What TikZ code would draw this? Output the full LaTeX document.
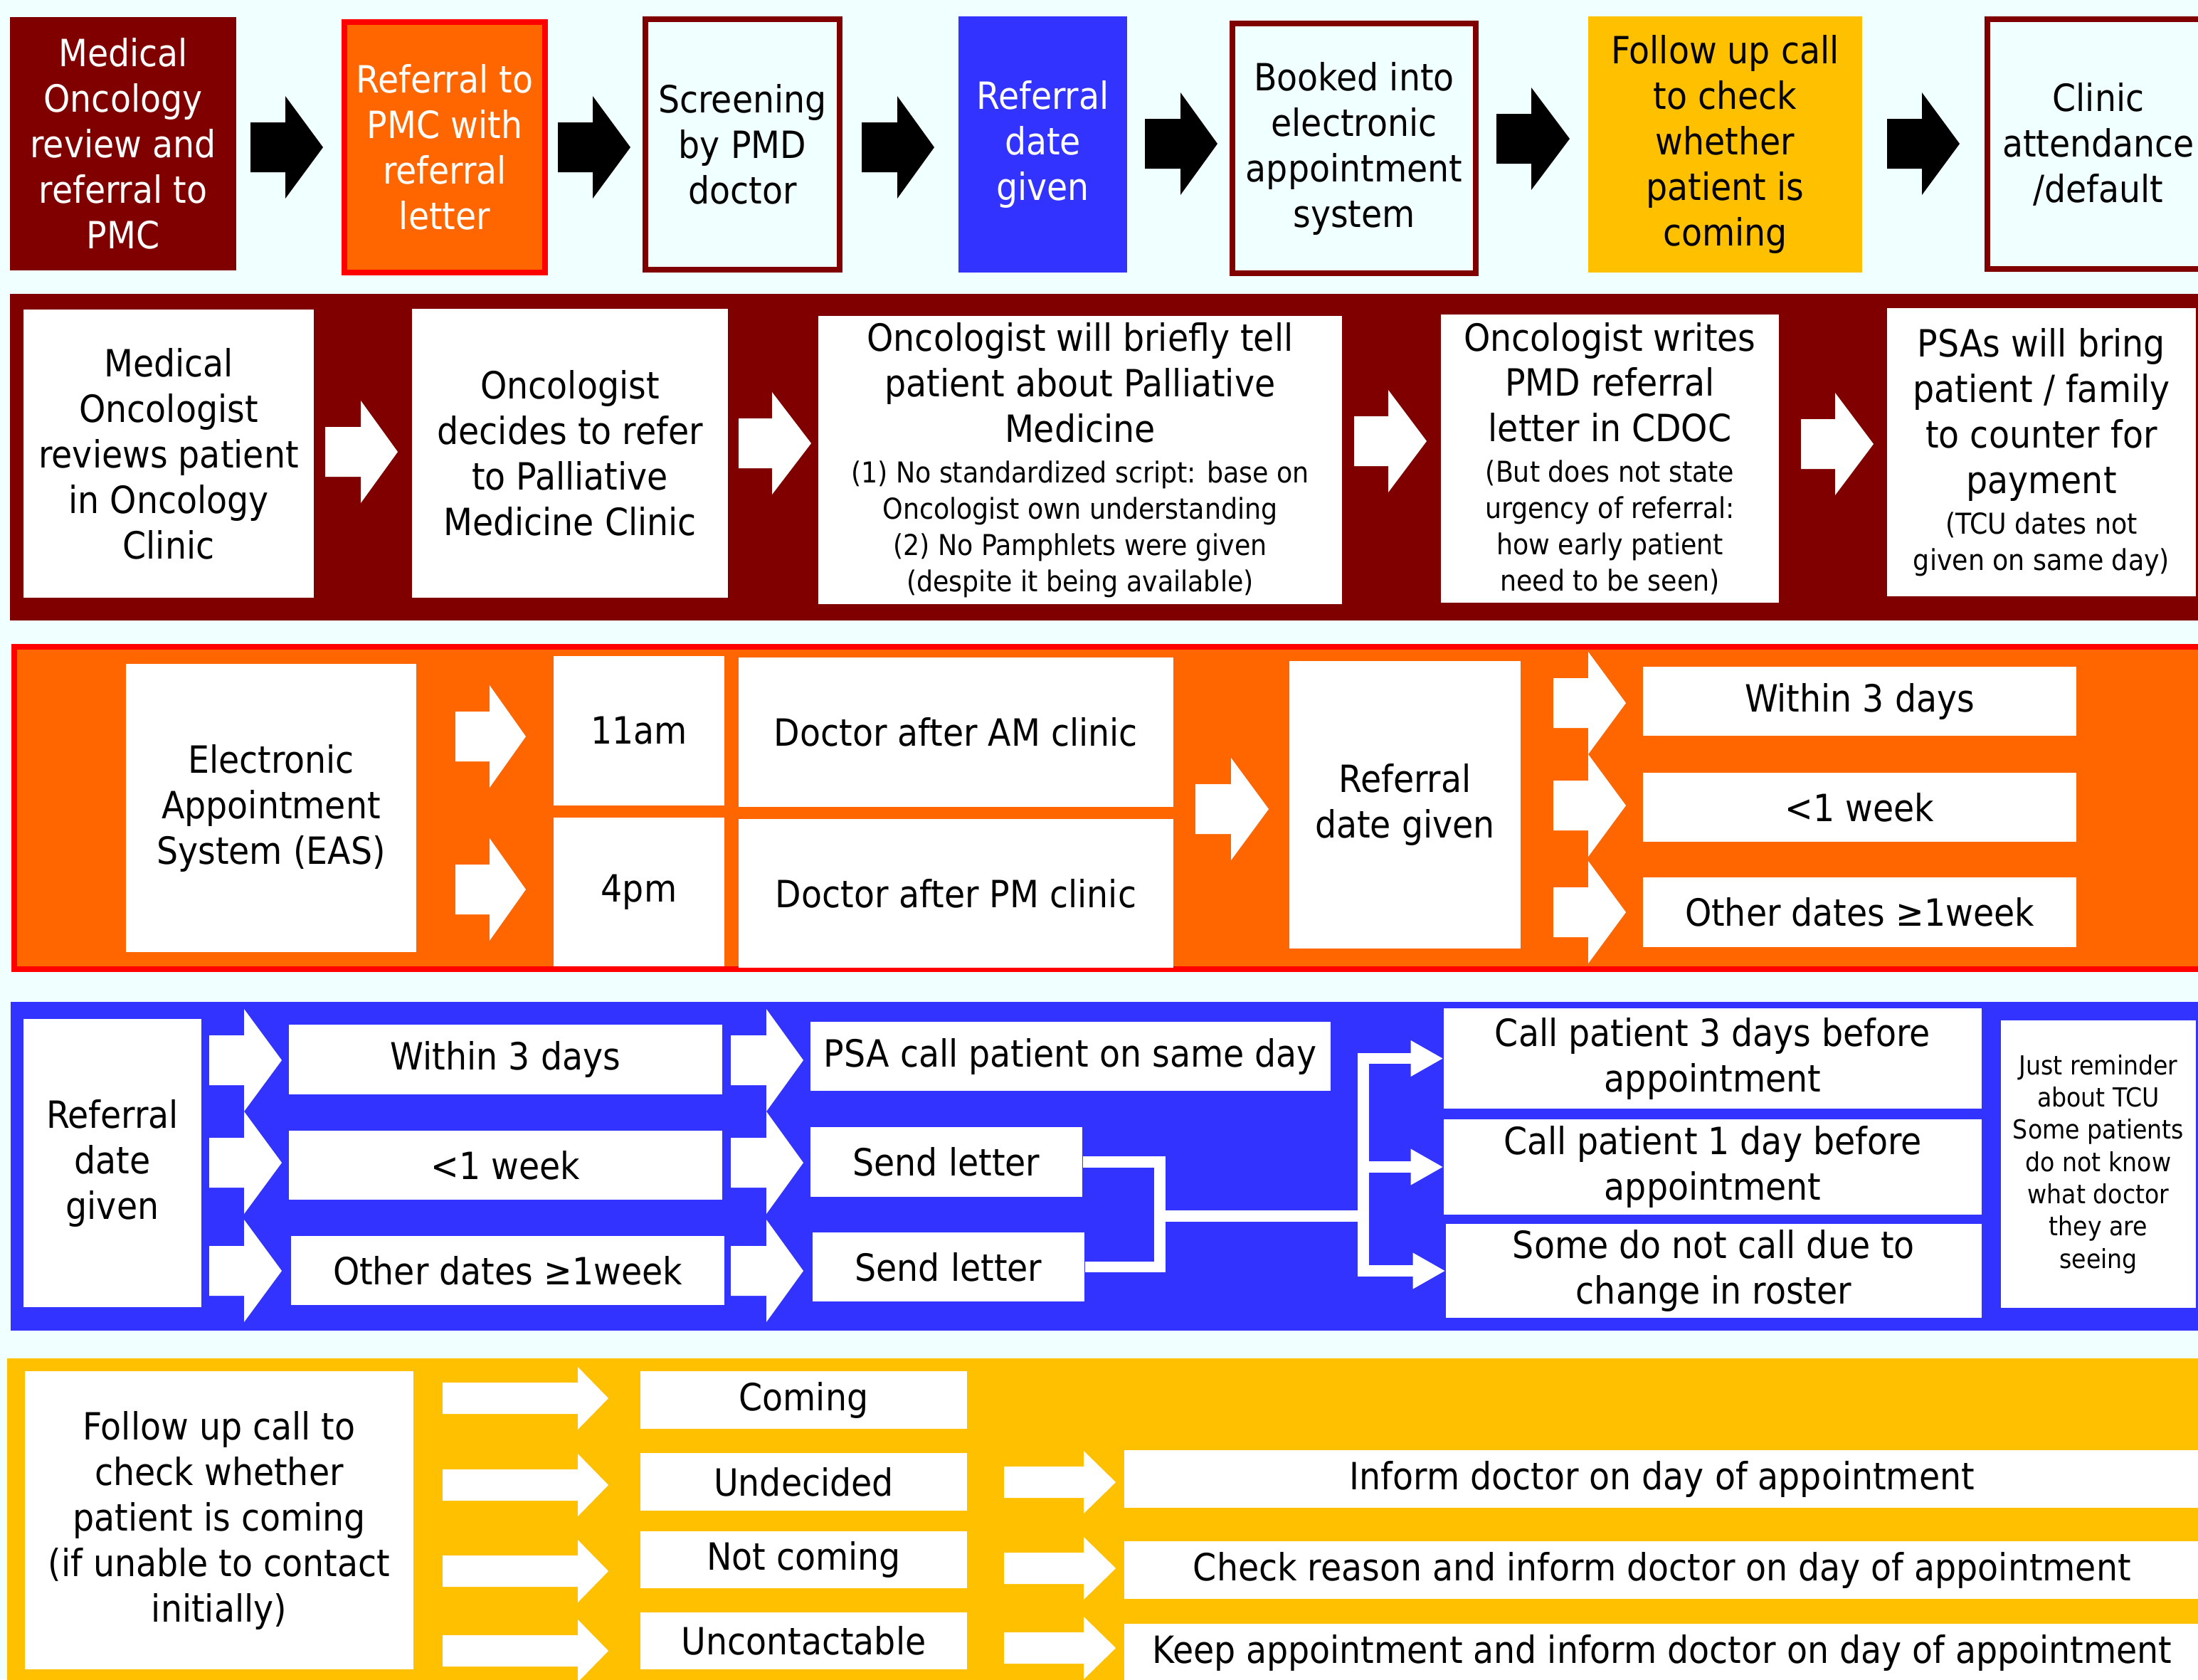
\documentclass[tikz,border=0pt]{standalone}
\usepackage{fontspec}
\setmainfont{DejaVu Sans Condensed}
\usetikzlibrary{arrows.meta}
\definecolor{bgcyan}{RGB}{240,255,255}
\definecolor{maroon}{RGB}{128,0,0}
\definecolor{pumpkin}{RGB}{255,102,0}
\definecolor{brightred}{RGB}{255,0,0}
\definecolor{royal}{RGB}{51,51,255}
\definecolor{amber}{RGB}{255,192,0}
\newcommand\bigtxt{\fontsize{15}{18.2}\selectfont}
\newcommand\smalltxt{\fontsize{11.5}{14.5}\selectfont}
\newcommand\tinytxt{\fontsize{10.5}{12.9}\selectfont}
\def\blkarrow[#1](#2:#3:#4:#5:#6:#7){\fill[#1] (#2,#5-#6) -- (#3,#5-#6) -- (#3,#5-#7) -- (#4,#5) -- (#3,#5+#7) -- (#3,#5+#6) -- (#2,#5+#6) -- cycle;}
\tikzset{
	wbox/.style={fill=white, align=center, inner sep=0pt, font=\bigtxt},
	topbox/.style={align=center, inner sep=0pt, font=\bigtxt, line width=2.3pt},
	wline/.style={draw=white, line width=4.5pt},
	wtip/.style={-{Triangle[length=13pt,width=13.5pt]}},
}

\begin{document}
\begin{tikzpicture}
			%%%%% START %%%%%
			\useasboundingbox (0,0) rectangle (30.89,-23.60);
			\clip (0,0) rectangle (30.89,-23.60);
			\fill[bgcyan] (0,0) rectangle (30.89,-23.60);
			
			% top row
			\node[topbox, fill=maroon, text=white, minimum width=3.18cm, minimum height=3.56cm] (medrefer) at (1.73,-2.02) {Medical\\Oncology\\review and\\referral to\\PMC};
			\node[topbox, fill=pumpkin, draw=brightred, text=white, minimum width=2.82cm, minimum height=3.52cm] (pmcletter) at (6.25,-2.07) {Referral to\\PMC with\\referral\\letter};
			\node[topbox, fill=bgcyan, draw=maroon, minimum width=2.73cm, minimum height=3.52cm] (screen) at (10.435,-2.03) {Screening\\by PMD\\doctor};
			\node[topbox, fill=royal, text=white, minimum width=2.37cm, minimum height=3.60cm] (refdatetop) at (14.655,-2.03) {Referral\\date\\given};
			\node[topbox, fill=bgcyan, draw=maroon, minimum width=3.42cm, minimum height=3.51cm] (booked) at (19.03,-2.085) {Booked into\\electronic\\appointment\\system};
			\node[topbox, fill=amber, minimum width=3.85cm, minimum height=3.60cm] (followtop) at (24.245,-2.03) {Follow up call\\to check\\whether\\patient is\\coming};
			\node[topbox, fill=bgcyan, draw=maroon, minimum width=3.12cm, minimum height=3.51cm] (attend) at (29.49,-2.025) {Clinic\\attendance\\/default};
			
			\blkarrow[black](3.52:4.01:4.54:-2.07:0.35:0.72)
			\blkarrow[black](7.84:8.33:8.86:-2.07:0.35:0.72)
			\blkarrow[black](12.11:12.61:13.13:-2.07:0.35:0.72)
			\blkarrow[black](16.09:16.59:17.11:-2.02:0.35:0.72)
			\blkarrow[black](21.03:21.52:22.06:-1.95:0.35:0.72)
			\blkarrow[black](26.52:27.01:27.54:-2.02:0.35:0.72)
			
			% oncology band
			\fill[maroon] (0.14,-4.13) rectangle (31.0,-8.72);
			\node[wbox, minimum width=4.08cm, minimum height=4.05cm] (medrev) at (2.37,-6.375) {Medical\\Oncologist\\reviews patient\\in Oncology\\Clinic};
			\node[wbox, minimum width=4.44cm, minimum height=4.06cm] (decide) at (8.01,-6.37) {Oncologist\\decides to refer\\to Palliative\\Medicine Clinic};
			\node[wbox, minimum width=7.36cm, minimum height=4.05cm] (tell) at (15.18,-6.465) {Oncologist will briefly tell\\patient about Palliative\\Medicine\\[-2pt]\smalltxt (1) No standardized script: base on\\[-3.7pt]\smalltxt Oncologist own understanding\\[-3.7pt]\smalltxt (2) No Pamphlets were given\\[-3.7pt]\smalltxt (despite it being available)};
			\node[wbox, minimum width=4.75cm, minimum height=4.05cm] (writes) at (22.625,-6.445) {Oncologist writes\\PMD referral\\letter in CDOC\\[-2pt]\smalltxt (But does not state\\[-3.7pt]\smalltxt urgency of referral:\\[-3.7pt]\smalltxt how early patient\\[-3.7pt]\smalltxt need to be seen)};
			\node[wbox, minimum width=4.34cm, minimum height=4.05cm] (psas) at (28.69,-6.355) {PSAs will bring\\patient / family\\to counter for\\payment\\[-2pt]\smalltxt (TCU dates not\\[-3.7pt]\smalltxt given on same day)};
			
			\blkarrow[white](4.57:5.07:5.59:-6.35:0.35:0.72)
			\blkarrow[white](10.38:10.85:11.40:-6.23:0.35:0.72)
			\blkarrow[white](19.03:19.51:20.05:-6.20:0.35:0.72)
			\blkarrow[white](25.31:25.79:26.33:-6.24:0.35:0.72)
			
			% appointment band
			\filldraw[fill=pumpkin, draw=brightred, line width=2.3pt] (0.20,-9.09) rectangle (31.2,-13.62);
			\node[wbox, minimum width=4.08cm, minimum height=4.05cm] (eas) at (3.81,-11.355) {Electronic\\Appointment\\System (EAS)};
			\node[wbox, minimum width=2.40cm, minimum height=2.10cm] (amslot) at (8.98,-10.27) {11am};
			\node[wbox, minimum width=2.40cm, minimum height=2.09cm] (pmslot) at (8.98,-12.535) {4pm};
			\node[wbox, minimum width=6.11cm, minimum height=2.10cm] (docam) at (13.435,-10.29) {Doctor after AM clinic};
			\node[wbox, minimum width=6.11cm, minimum height=2.09cm] (docpm) at (13.435,-12.555) {Doctor after PM clinic};
			\node[wbox, minimum width=3.25cm, minimum height=4.04cm] (refdate) at (19.745,-11.31) {Referral\\date given};
			\node[wbox, minimum width=6.09cm, minimum height=0.97cm] (threea) at (26.135,-9.855) {Within 3 days};
			\node[wbox, minimum width=6.09cm, minimum height=0.97cm] (weeka) at (26.135,-11.345) {<1 week};
			\node[wbox, minimum width=6.09cm, minimum height=0.98cm] (othera) at (26.135,-12.82) {Other dates ≥1week};
			
			\blkarrow[white](6.40:6.88:7.39:-10.35:0.35:0.72)
			\blkarrow[white](6.40:6.88:7.39:-12.50:0.35:0.72)
			\blkarrow[white](16.80:17.30:17.83:-11.37:0.35:0.72)
			\blkarrow[white](21.83:22.32:22.85:-9.88:0.35:0.72)
			\blkarrow[white](21.83:22.32:22.85:-11.32:0.35:0.72)
			\blkarrow[white](21.83:22.32:22.85:-12.82:0.35:0.72)
			
			% referral date band
			\fill[royal] (0.15,-14.08) rectangle (31.0,-18.70);
			\node[wbox, minimum width=2.50cm, minimum height=4.05cm] (refdateb) at (1.58,-16.345) {Referral\\date\\given};
			\node[wbox, minimum width=6.09cm, minimum height=0.98cm] (threeb) at (7.105,-14.89) {Within 3 days};
			\node[wbox, minimum width=6.09cm, minimum height=0.97cm] (weekb) at (7.105,-16.375) {<1 week};
			\node[wbox, minimum width=6.09cm, minimum height=0.97cm] (otherb) at (7.135,-17.855) {Other dates ≥1week};
			\node[wbox, minimum width=7.31cm, minimum height=0.97cm] (psacall) at (15.045,-14.845) {PSA call patient on same day};
			\node[wbox, minimum width=3.82cm, minimum height=0.98cm] (letterone) at (13.30,-16.33) {Send letter};
			\node[wbox, minimum width=3.82cm, minimum height=0.97cm] (lettertwo) at (13.33,-17.805) {Send letter};
			\node[wbox, minimum width=7.56cm, minimum height=1.41cm] (callthree) at (24.07,-14.875) {Call patient 3 days before\\appointment};
			\node[wbox, minimum width=7.56cm, minimum height=1.34cm] (callone) at (24.07,-16.40) {Call patient 1 day before\\appointment};
			\node[wbox, minimum width=7.53cm, minimum height=1.32cm] (roster) at (24.085,-17.86) {Some do not call due to\\change in roster};
			\node[wbox, font=\tinytxt, minimum width=2.74cm, minimum height=4.04cm] (remind) at (29.49,-16.36) {Just reminder\\about TCU\\Some patients\\do not know\\what doctor\\they are\\seeing};
			
			\blkarrow[white](2.94:3.43:3.96:-14.90:0.35:0.72)
			\blkarrow[white](2.94:3.43:3.96:-16.34:0.35:0.72)
			\blkarrow[white](2.94:3.43:3.96:-17.86:0.35:0.72)
			\blkarrow[white](10.27:10.77:11.29:-14.90:0.35:0.72)
			\blkarrow[white](10.27:10.77:11.29:-16.34:0.35:0.72)
			\blkarrow[white](10.27:10.77:11.29:-17.86:0.35:0.72)
			
			\coordinate (bracket) at (16.30,-17.09);
			\coordinate (spine) at (19.16,-17.09);
			\draw[wline] (letterone.east) -| (bracket) |- (lettertwo.east);
			\draw[wline] (bracket) -- (spine);
			\draw[wline, wtip] (spine) |- (callthree.west);
			\draw[wline, wtip] (spine) |- (callone.west);
			\draw[wline, wtip] (spine) |- (roster.west);
			
			% follow up band
			\fill[amber] (0.10,-19.09) rectangle (31.0,-23.8);
			\node[wbox, minimum width=5.46cm, minimum height=4.19cm] (followup) at (3.08,-21.365) {Follow up call to\\check whether\\patient is coming\\(if unable to contact\\initially)};
			\node[wbox, minimum width=4.59cm, minimum height=0.81cm] (coming) at (11.295,-19.675) {Coming};
			\node[wbox, minimum width=4.59cm, minimum height=0.81cm] (undecided) at (11.295,-20.825) {Undecided};
			\node[wbox, minimum width=4.59cm, minimum height=0.80cm] (notcoming) at (11.295,-21.92) {Not coming};
			\node[wbox, minimum width=4.59cm, minimum height=0.80cm] (uncontact) at (11.295,-23.06) {Uncontactable};
			\node[wbox, minimum width=15.12cm, minimum height=0.81cm] (inform) at (23.36,-20.785) {Inform doctor on day of appointment};
			\node[wbox, minimum width=15.12cm, minimum height=0.81cm] (reason) at (23.36,-22.065) {Check reason and inform doctor on day of appointment};
			\node[wbox, minimum width=15.12cm, minimum height=0.81cm] (keep) at (23.36,-23.225) {Keep appointment and inform doctor on day of appointment};
			
			\blkarrow[white](6.22:8.12:8.55:-19.65:0.22:0.44)
			\blkarrow[white](6.22:8.12:8.55:-20.87:0.22:0.44)
			\blkarrow[white](6.22:8.12:8.55:-22.08:0.22:0.44)
			\blkarrow[white](6.22:8.12:8.55:-23.20:0.22:0.44)
			\blkarrow[white](14.11:15.23:15.68:-20.83:0.22:0.44)
			\blkarrow[white](14.11:15.23:15.68:-22.04:0.22:0.44)
			\blkarrow[white](14.11:15.23:15.68:-23.16:0.22:0.44)
			%%%%% END %%%%%
\end{tikzpicture}
\end{document}
